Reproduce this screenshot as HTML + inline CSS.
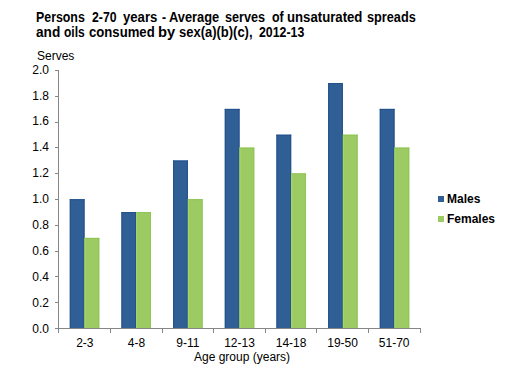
<!DOCTYPE html>
<html><head><meta charset="utf-8"><style>
html,body{margin:0;padding:0;background:#fff;}
body{width:509px;height:377px;position:relative;overflow:hidden;font-family:"Liberation Sans",sans-serif;color:#000;}
.t{position:absolute;font-weight:bold;font-size:14px;letter-spacing:-0.6px;word-spacing:1.5px;white-space:nowrap;line-height:16px;}
.tw{position:absolute;font-weight:bold;font-size:14px;white-space:nowrap;line-height:16px;transform-origin:0 0;}
.yl{position:absolute;left:0;width:49px;text-align:right;font-size:12px;line-height:14px;}
.xl{position:absolute;top:336px;width:60px;text-align:center;font-size:12px;line-height:14px;}
.lg{position:absolute;left:447px;font-size:12px;font-weight:bold;line-height:14px;}
.sq{position:absolute;left:438px;width:6px;height:6px;}
svg{position:absolute;left:0;top:0;}
</style></head><body>
<span class="tw" style="left:36.42px;top:9px;transform:scaleX(0.8833)">Persons</span>
<span class="tw" style="left:91.5px;top:9px;transform:scaleX(0.875)">2-70</span>
<span class="tw" style="left:122.8px;top:9px;transform:scaleX(0.9389)">years</span>
<span class="tw" style="left:161.5px;top:9px;transform:scaleX(0.875)">-</span>
<span class="tw" style="left:168.5px;top:9px;transform:scaleX(0.9182)">Average</span>
<span class="tw" style="left:224.6px;top:9px;transform:scaleX(0.9047)">serves</span>
<span class="tw" style="left:271.7px;top:9px;transform:scaleX(0.8857)">of</span>
<span class="tw" style="left:287.36px;top:9px;transform:scaleX(0.941)">unsaturated</span>
<span class="tw" style="left:366.59px;top:9px;transform:scaleX(0.9075)">spreads</span>
<span class="tw" style="left:36.0px;top:24px;transform:scaleX(0.975)">and</span>
<span class="tw" style="left:63.6px;top:24px;transform:scaleX(0.8583)">oils</span>
<span class="tw" style="left:89.1px;top:24px;transform:scaleX(0.9377)">consumed</span>
<span class="tw" style="left:158.35px;top:24px;transform:scaleX(1.0533)">by</span>
<span class="tw" style="left:178.97px;top:24px;transform:scaleX(0.9269)">sex(a)(b)(c),</span>
<span class="tw" style="left:258.5px;top:24px;transform:scaleX(0.8824)">2012-13</span>
<div style="position:absolute;left:37px;top:49px;font-size:12px;line-height:14px;">Serves</div>
<div class="yl" style="top:322px">0.0</div>
<div class="yl" style="top:296px">0.2</div>
<div class="yl" style="top:270px">0.4</div>
<div class="yl" style="top:244px">0.6</div>
<div class="yl" style="top:218px">0.8</div>
<div class="yl" style="top:192px">1.0</div>
<div class="yl" style="top:166px">1.2</div>
<div class="yl" style="top:140px">1.4</div>
<div class="yl" style="top:114px">1.6</div>
<div class="yl" style="top:89px">1.8</div>
<div class="yl" style="top:63px">2.0</div>
<div class="xl" style="left:54.8px">2-3</div>
<div class="xl" style="left:106.4px">4-8</div>
<div class="xl" style="left:157.9px">9-11</div>
<div class="xl" style="left:209.5px">12-13</div>
<div class="xl" style="left:261.1px">14-18</div>
<div class="xl" style="left:312.6px">19-50</div>
<div class="xl" style="left:364.2px">51-70</div>
<div style="position:absolute;left:194px;top:350px;font-size:12px;line-height:14px;white-space:nowrap;">Age group (years)</div>
<svg width="509" height="377" viewBox="0 0 509 377">
<rect x="69.78" y="199.2" width="14.75" height="128.8" fill="#2F5F94"/>
<rect x="69.78" y="199.2" width="1" height="128.8" fill="#22528D"/>
<rect x="83.53" y="199.2" width="1" height="128.8" fill="#22528D"/>
<rect x="69.78" y="199.2" width="14.75" height="1" fill="#22528D"/>
<rect x="84.53" y="237.9" width="14.75" height="90.1" fill="#9DCB63"/>
<rect x="84.53" y="237.9" width="1" height="90.1" fill="#A6D763"/>
<rect x="98.28" y="237.9" width="1" height="90.1" fill="#8EC553"/>
<rect x="84.53" y="237.9" width="14.75" height="1" fill="#8EC553"/>
<rect x="121.44" y="212.1" width="14.75" height="115.9" fill="#2F5F94"/>
<rect x="121.44" y="212.1" width="1" height="115.9" fill="#22528D"/>
<rect x="135.19" y="212.1" width="1" height="115.9" fill="#22528D"/>
<rect x="121.44" y="212.1" width="14.75" height="1" fill="#22528D"/>
<rect x="136.19" y="212.1" width="14.75" height="115.9" fill="#9DCB63"/>
<rect x="136.19" y="212.1" width="1" height="115.9" fill="#A6D763"/>
<rect x="149.94" y="212.1" width="1" height="115.9" fill="#8EC553"/>
<rect x="136.19" y="212.1" width="14.75" height="1" fill="#8EC553"/>
<rect x="173.11" y="160.5" width="14.75" height="167.5" fill="#2F5F94"/>
<rect x="173.11" y="160.5" width="1" height="167.5" fill="#22528D"/>
<rect x="186.86" y="160.5" width="1" height="167.5" fill="#22528D"/>
<rect x="173.11" y="160.5" width="14.75" height="1" fill="#22528D"/>
<rect x="187.86" y="199.2" width="14.75" height="128.8" fill="#9DCB63"/>
<rect x="187.86" y="199.2" width="1" height="128.8" fill="#A6D763"/>
<rect x="201.61" y="199.2" width="1" height="128.8" fill="#8EC553"/>
<rect x="187.86" y="199.2" width="14.75" height="1" fill="#8EC553"/>
<rect x="224.78" y="108.9" width="14.75" height="219.1" fill="#2F5F94"/>
<rect x="224.78" y="108.9" width="1" height="219.1" fill="#22528D"/>
<rect x="238.53" y="108.9" width="1" height="219.1" fill="#22528D"/>
<rect x="224.78" y="108.9" width="14.75" height="1" fill="#22528D"/>
<rect x="239.53" y="147.6" width="14.75" height="180.4" fill="#9DCB63"/>
<rect x="239.53" y="147.6" width="1" height="180.4" fill="#A6D763"/>
<rect x="253.28" y="147.6" width="1" height="180.4" fill="#8EC553"/>
<rect x="239.53" y="147.6" width="14.75" height="1" fill="#8EC553"/>
<rect x="276.44" y="134.7" width="14.75" height="193.3" fill="#2F5F94"/>
<rect x="276.44" y="134.7" width="1" height="193.3" fill="#22528D"/>
<rect x="290.19" y="134.7" width="1" height="193.3" fill="#22528D"/>
<rect x="276.44" y="134.7" width="14.75" height="1" fill="#22528D"/>
<rect x="291.19" y="173.4" width="14.75" height="154.6" fill="#9DCB63"/>
<rect x="291.19" y="173.4" width="1" height="154.6" fill="#A6D763"/>
<rect x="304.94" y="173.4" width="1" height="154.6" fill="#8EC553"/>
<rect x="291.19" y="173.4" width="14.75" height="1" fill="#8EC553"/>
<rect x="328.11" y="83.1" width="14.75" height="244.9" fill="#2F5F94"/>
<rect x="328.11" y="83.1" width="1" height="244.9" fill="#22528D"/>
<rect x="341.86" y="83.1" width="1" height="244.9" fill="#22528D"/>
<rect x="328.11" y="83.1" width="14.75" height="1" fill="#22528D"/>
<rect x="342.86" y="134.7" width="14.75" height="193.3" fill="#9DCB63"/>
<rect x="342.86" y="134.7" width="1" height="193.3" fill="#A6D763"/>
<rect x="356.61" y="134.7" width="1" height="193.3" fill="#8EC553"/>
<rect x="342.86" y="134.7" width="14.75" height="1" fill="#8EC553"/>
<rect x="379.77" y="108.9" width="14.75" height="219.1" fill="#2F5F94"/>
<rect x="379.77" y="108.9" width="1" height="219.1" fill="#22528D"/>
<rect x="393.52" y="108.9" width="1" height="219.1" fill="#22528D"/>
<rect x="379.77" y="108.9" width="14.75" height="1" fill="#22528D"/>
<rect x="394.52" y="147.6" width="14.75" height="180.4" fill="#9DCB63"/>
<rect x="394.52" y="147.6" width="1" height="180.4" fill="#A6D763"/>
<rect x="408.27" y="147.6" width="1" height="180.4" fill="#8EC553"/>
<rect x="394.52" y="147.6" width="14.75" height="1" fill="#8EC553"/>
<g stroke="#868686" stroke-width="1" fill="none" shape-rendering="crispEdges">
<line x1="58.5" y1="70" x2="58.5" y2="329"/>
<line x1="58" y1="328.5" x2="421" y2="328.5"/>
<line x1="55" y1="328.5" x2="58" y2="328.5"/><line x1="55" y1="302.5" x2="58" y2="302.5"/><line x1="55" y1="276.5" x2="58" y2="276.5"/><line x1="55" y1="251.5" x2="58" y2="251.5"/><line x1="55" y1="225.5" x2="58" y2="225.5"/><line x1="55" y1="199.5" x2="58" y2="199.5"/><line x1="55" y1="173.5" x2="58" y2="173.5"/><line x1="55" y1="147.5" x2="58" y2="147.5"/><line x1="55" y1="122.5" x2="58" y2="122.5"/><line x1="55" y1="96.5" x2="58" y2="96.5"/><line x1="55" y1="70.5" x2="58" y2="70.5"/>
<line x1="58.5" y1="328" x2="58.5" y2="333"/><line x1="110.5" y1="328" x2="110.5" y2="333"/><line x1="162.5" y1="328" x2="162.5" y2="333"/><line x1="213.5" y1="328" x2="213.5" y2="333"/><line x1="265.5" y1="328" x2="265.5" y2="333"/><line x1="316.5" y1="328" x2="316.5" y2="333"/><line x1="368.5" y1="328" x2="368.5" y2="333"/><line x1="420.5" y1="328" x2="420.5" y2="333"/>
</g>
</svg>
<div class="sq" style="top:196px;background:#2F5F94"></div>
<div class="sq" style="top:216px;background:#9DCB63"></div>
<div class="lg" style="top:192px">Males</div>
<div class="lg" style="top:212px">Females</div>
</body></html>
